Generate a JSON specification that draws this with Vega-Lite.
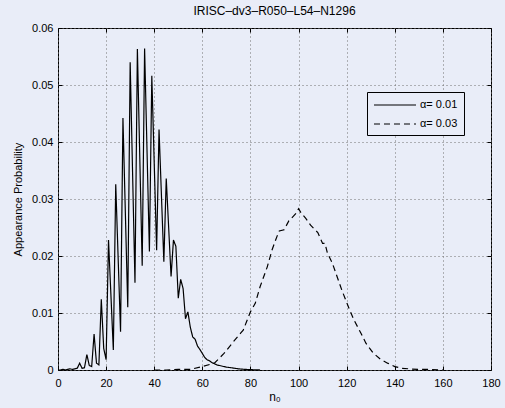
{
  "$schema": "https://vega.github.io/schema/vega-lite/v6.json",
  "width": 433,
  "height": 342,
  "autosize": {"type": "none"},
  "padding": {"left": 58, "top": 28, "right": 14, "bottom": 38},
  "background": "#E9EDF8",
  "config": {
    "view": {"stroke": "black", "strokeWidth": 1, "fill": "#E9EDF8"},
    "font": "Liberation Sans"
  },
  "title": {"text": "IRISC–dv3–R050–L54–N1296", "fontSize": 12, "fontWeight": "normal", "font": "Liberation Sans", "offset": 4, "color": "black"},
  "data": {"values": [
    {"n": 0, "p": 0, "series": "α= 0.01"},
    {"n": 1, "p": 0, "series": "α= 0.01"},
    {"n": 2, "p": 0.0001, "series": "α= 0.01"},
    {"n": 3, "p": 0, "series": "α= 0.01"},
    {"n": 4, "p": 0.0001, "series": "α= 0.01"},
    {"n": 5, "p": 0.0002, "series": "α= 0.01"},
    {"n": 6, "p": 0.0001, "series": "α= 0.01"},
    {"n": 7, "p": 0.0002, "series": "α= 0.01"},
    {"n": 8, "p": 0.0003, "series": "α= 0.01"},
    {"n": 9, "p": 0.0012, "series": "α= 0.01"},
    {"n": 10, "p": 0.0003, "series": "α= 0.01"},
    {"n": 11, "p": 0.0004, "series": "α= 0.01"},
    {"n": 12, "p": 0.0027, "series": "α= 0.01"},
    {"n": 13, "p": 0.0008, "series": "α= 0.01"},
    {"n": 14, "p": 0.0006, "series": "α= 0.01"},
    {"n": 15, "p": 0.0063, "series": "α= 0.01"},
    {"n": 16, "p": 0.0012, "series": "α= 0.01"},
    {"n": 17, "p": 0.0009, "series": "α= 0.01"},
    {"n": 18, "p": 0.0124, "series": "α= 0.01"},
    {"n": 19, "p": 0.0038, "series": "α= 0.01"},
    {"n": 20, "p": 0.0018, "series": "α= 0.01"},
    {"n": 21, "p": 0.0228, "series": "α= 0.01"},
    {"n": 23, "p": 0.0035, "series": "α= 0.01"},
    {"n": 24, "p": 0.0326, "series": "α= 0.01"},
    {"n": 26, "p": 0.0067, "series": "α= 0.01"},
    {"n": 27, "p": 0.0442, "series": "α= 0.01"},
    {"n": 29, "p": 0.011, "series": "α= 0.01"},
    {"n": 30, "p": 0.054, "series": "α= 0.01"},
    {"n": 32, "p": 0.0153, "series": "α= 0.01"},
    {"n": 33, "p": 0.0563, "series": "α= 0.01"},
    {"n": 35, "p": 0.0183, "series": "α= 0.01"},
    {"n": 36, "p": 0.0564, "series": "α= 0.01"},
    {"n": 38, "p": 0.0208, "series": "α= 0.01"},
    {"n": 39, "p": 0.0516, "series": "α= 0.01"},
    {"n": 41, "p": 0.021, "series": "α= 0.01"},
    {"n": 42, "p": 0.0422, "series": "α= 0.01"},
    {"n": 44, "p": 0.019, "series": "α= 0.01"},
    {"n": 45, "p": 0.0336, "series": "α= 0.01"},
    {"n": 47, "p": 0.0164, "series": "α= 0.01"},
    {"n": 48, "p": 0.0228, "series": "α= 0.01"},
    {"n": 49, "p": 0.0217, "series": "α= 0.01"},
    {"n": 50, "p": 0.0126, "series": "α= 0.01"},
    {"n": 51, "p": 0.0159, "series": "α= 0.01"},
    {"n": 52, "p": 0.0143, "series": "α= 0.01"},
    {"n": 53, "p": 0.009, "series": "α= 0.01"},
    {"n": 54, "p": 0.0102, "series": "α= 0.01"},
    {"n": 55, "p": 0.0075, "series": "α= 0.01"},
    {"n": 56, "p": 0.0058, "series": "α= 0.01"},
    {"n": 57, "p": 0.0054, "series": "α= 0.01"},
    {"n": 58, "p": 0.0042, "series": "α= 0.01"},
    {"n": 59, "p": 0.0036, "series": "α= 0.01"},
    {"n": 60, "p": 0.0029, "series": "α= 0.01"},
    {"n": 61, "p": 0.0022, "series": "α= 0.01"},
    {"n": 62, "p": 0.0018, "series": "α= 0.01"},
    {"n": 63, "p": 0.0016, "series": "α= 0.01"},
    {"n": 64, "p": 0.0013, "series": "α= 0.01"},
    {"n": 66, "p": 0.0009, "series": "α= 0.01"},
    {"n": 68, "p": 0.0007, "series": "α= 0.01"},
    {"n": 70, "p": 0.0005, "series": "α= 0.01"},
    {"n": 72, "p": 0.0004, "series": "α= 0.01"},
    {"n": 75, "p": 0.0002, "series": "α= 0.01"},
    {"n": 78, "p": 0.0001, "series": "α= 0.01"},
    {"n": 84, "p": 0, "series": "α= 0.01"},
    {"n": 40, "p": 0, "series": "α= 0.03"},
    {"n": 45, "p": 0, "series": "α= 0.03"},
    {"n": 50, "p": 0.0001, "series": "α= 0.03"},
    {"n": 55, "p": 0.0001, "series": "α= 0.03"},
    {"n": 60, "p": 0.0006, "series": "α= 0.03"},
    {"n": 65, "p": 0.0012, "series": "α= 0.03"},
    {"n": 69, "p": 0.0029, "series": "α= 0.03"},
    {"n": 73, "p": 0.005, "series": "α= 0.03"},
    {"n": 76, "p": 0.0065, "series": "α= 0.03"},
    {"n": 77, "p": 0.007, "series": "α= 0.03"},
    {"n": 80, "p": 0.0102, "series": "α= 0.03"},
    {"n": 82, "p": 0.0117, "series": "α= 0.03"},
    {"n": 84, "p": 0.0146, "series": "α= 0.03"},
    {"n": 87, "p": 0.0181, "series": "α= 0.03"},
    {"n": 89, "p": 0.0211, "series": "α= 0.03"},
    {"n": 91, "p": 0.0234, "series": "α= 0.03"},
    {"n": 92, "p": 0.0244, "series": "α= 0.03"},
    {"n": 94, "p": 0.0246, "series": "α= 0.03"},
    {"n": 96, "p": 0.0262, "series": "α= 0.03"},
    {"n": 97, "p": 0.0266, "series": "α= 0.03"},
    {"n": 99, "p": 0.0275, "series": "α= 0.03"},
    {"n": 100, "p": 0.0283, "series": "α= 0.03"},
    {"n": 101, "p": 0.0276, "series": "α= 0.03"},
    {"n": 103, "p": 0.0266, "series": "α= 0.03"},
    {"n": 105, "p": 0.0254, "series": "α= 0.03"},
    {"n": 108, "p": 0.0241, "series": "α= 0.03"},
    {"n": 110, "p": 0.0222, "series": "α= 0.03"},
    {"n": 111, "p": 0.0222, "series": "α= 0.03"},
    {"n": 112, "p": 0.0205, "series": "α= 0.03"},
    {"n": 114, "p": 0.0188, "series": "α= 0.03"},
    {"n": 116, "p": 0.0164, "series": "α= 0.03"},
    {"n": 118, "p": 0.014, "series": "α= 0.03"},
    {"n": 121, "p": 0.0108, "series": "α= 0.03"},
    {"n": 123, "p": 0.0088, "series": "α= 0.03"},
    {"n": 126, "p": 0.0064, "series": "α= 0.03"},
    {"n": 128, "p": 0.0047, "series": "α= 0.03"},
    {"n": 131, "p": 0.003, "series": "α= 0.03"},
    {"n": 134, "p": 0.0019, "series": "α= 0.03"},
    {"n": 137, "p": 0.0012, "series": "α= 0.03"},
    {"n": 140, "p": 0.0006, "series": "α= 0.03"},
    {"n": 143, "p": 0.0003, "series": "α= 0.03"},
    {"n": 146, "p": 0.0002, "series": "α= 0.03"},
    {"n": 150, "p": 0.0001, "series": "α= 0.03"},
    {"n": 155, "p": 0.0001, "series": "α= 0.03"},
    {"n": 160, "p": 0, "series": "α= 0.03"}
  ]},
  "layer": [
    {
      "mark": {"type": "line", "strokeWidth": 1.2, "color": "black"},
      "encoding": {
        "x": {"field": "n", "type": "quantitative", "scale": {"domain": [0, 180], "nice": false, "zero": false},
          "axis": {"orient": "bottom", "values": [0, 20, 40, 60, 80, 100, 120, 140, 160, 180], "domain": false,
            "grid": true, "gridDash": [1, 3], "gridColor": "#707070", "gridOpacity": 1, "gridWidth": 1,
            "tickSize": -4, "tickColor": "black", "labelPadding": 11, "labelFontSize": 11, "labelColor": "black",
            "labelFont": "Liberation Sans", "labelFlush": false,
            "title": "n₀", "titleFontSize": 12, "titleFontWeight": "normal", "titleColor": "black", "titleFont": "Liberation Sans", "titlePadding": 3}},
        "y": {"field": "p", "type": "quantitative", "scale": {"domain": [0, 0.06], "nice": false},
          "axis": {"orient": "left", "values": [0, 0.01, 0.02, 0.03, 0.04, 0.05, 0.06], "format": ".2~f", "domain": false,
            "grid": true, "gridDash": [1, 3], "gridColor": "#707070", "gridOpacity": 1, "gridWidth": 1,
            "tickSize": -4, "tickColor": "black", "labelPadding": 9, "labelFontSize": 11, "labelColor": "black",
            "labelFont": "Liberation Sans", "labelFlush": false,
            "title": "Appearance Probability", "titleFontSize": 11, "titleFontWeight": "normal", "titleColor": "black", "titleFont": "Liberation Sans", "titlePadding": 8}},
        "strokeDash": {"field": "series", "type": "nominal",
          "scale": {"domain": ["α= 0.01", "α= 0.03"], "range": [[1, 0], [6, 4]]},
          "legend": {"orient": "none", "legendX": 309, "legendY": 64, "title": null,
            "symbolType": "M-1,0H6", "symbolSize": 144, "symbolStrokeColor": "black", "symbolStrokeWidth": 1.2,
            "strokeColor": "black", "fillColor": "#E9EDF8", "padding": 6, "labelOffset": 33, "rowPadding": 7,
            "labelFontSize": 11, "labelColor": "black", "labelFont": "Liberation Sans"}}
      }
    },
    {
      "mark": {"type": "line", "opacity": 0},
      "encoding": {
        "x": {"field": "n", "type": "quantitative",
          "axis": {"orient": "top", "values": [0, 20, 40, 60, 80, 100, 120, 140, 160, 180], "domain": false, "grid": false, "labels": false, "tickSize": -4, "tickColor": "black", "title": null}},
        "y": {"field": "p", "type": "quantitative",
          "axis": {"orient": "right", "values": [0, 0.01, 0.02, 0.03, 0.04, 0.05, 0.06], "domain": false, "grid": false, "labels": false, "tickSize": -4, "tickColor": "black", "title": null}},
        "detail": {"field": "series", "type": "nominal"}
      }
    }
  ],
  "resolve": {"axis": {"x": "independent", "y": "independent"}}
}
